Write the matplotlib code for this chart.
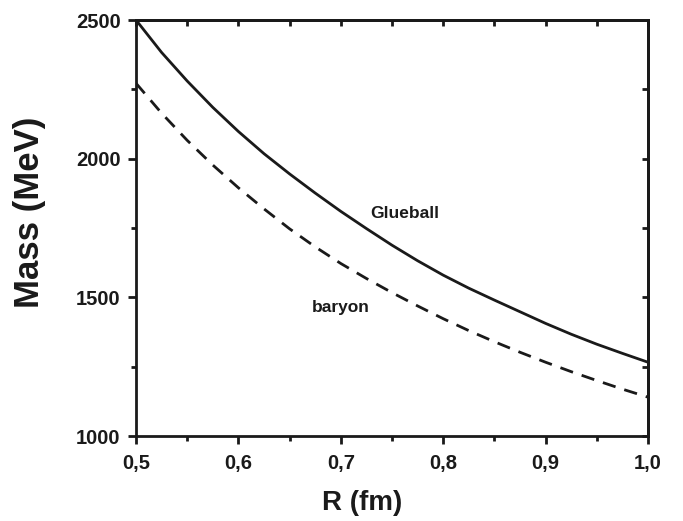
import numpy as np
import matplotlib
matplotlib.use('Agg')
import matplotlib.pyplot as plt
from matplotlib.ticker import MultipleLocator

# values (every 0.025 fm)
R = [0.500, 0.525, 0.550, 0.575, 0.600, 0.625, 0.650, 0.675, 0.700, 0.725,
     0.750, 0.775, 0.800, 0.825, 0.850, 0.875, 0.900, 0.925, 0.950, 0.975, 1.000]
glueball = [2500, 2383, 2280, 2185, 2098, 2018, 1945, 1876, 1810, 1748,
            1688, 1632, 1580, 1533, 1490, 1448, 1406, 1367, 1331, 1298, 1266]
baryon = [2272, 2164, 2066, 1977, 1895, 1819, 1747, 1682, 1622, 1568,
          1517, 1469, 1423, 1380, 1340, 1302, 1266, 1232, 1200, 1169, 1140]

plt.rcParams['font.family'] = ['Liberation Sans', 'DejaVu Sans']
plt.rcParams['font.weight'] = 'bold'

fig = plt.figure(figsize=(6.83, 5.21), dpi=100)
ax = fig.add_axes([136/683, 1 - 436/521, 512/683, 416/521])

col = '#1a1a1a'
ax.plot(R, glueball, color=col, lw=2.0, solid_capstyle='butt')
ax.plot(R, baryon, color=col, lw=2.0, dashes=(4.8, 3.3))

ax.set_xlim(0.5, 1.0)
ax.set_ylim(1000, 2500)

ax.xaxis.set_major_locator(MultipleLocator(0.1))
ax.xaxis.set_minor_locator(MultipleLocator(0.05))
ax.yaxis.set_major_locator(MultipleLocator(500))
ax.yaxis.set_minor_locator(MultipleLocator(250))
ax.set_xticklabels([f"{t:.1f}".replace('.', ',') for t in ax.get_xticks()])

for s in ax.spines.values():
    s.set_linewidth(2.0)
    s.set_color(col)

ax.tick_params(which='major', direction='out', length=6, width=2.0,
               color=col, labelsize=14.5, labelcolor=col)
ax.tick_params(which='minor', direction='out', length=3.5, width=2.0, color=col)
ax.tick_params(axis='x', which='major', pad=7)
ax.tick_params(axis='y', which='major', pad=5)

# mirrored ticks pointing inwards on top and right
top = ax.secondary_xaxis('top')
top.xaxis.set_major_locator(MultipleLocator(0.1))
top.xaxis.set_minor_locator(MultipleLocator(0.05))
top.tick_params(which='both', direction='in', length=4, width=2.0,
                color=col, labeltop=False)
top.spines['top'].set_linewidth(2.0)
right = ax.secondary_yaxis('right')
right.yaxis.set_major_locator(MultipleLocator(500))
right.yaxis.set_minor_locator(MultipleLocator(250))
right.tick_params(which='both', direction='in', length=4, width=2.0,
                  color=col, labelright=False)
right.spines['right'].set_linewidth(2.0)

ax.set_xlabel('R (fm)', fontsize=20, fontweight='bold', color=col, va='center')
ax.xaxis.set_label_coords((362 - 136) / 512, -(503 - 436) / 416)
ax.set_ylabel('Mass (MeV)', fontsize=25, fontweight='bold', color=col, va='center')
ax.yaxis.set_label_coords(-(136 - 30) / 512, (436 - 212) / 416)

ax.text(0.762, 1804, 'Glueball', fontsize=12.5, fontweight='bold',
        color=col, ha='center', va='center')
ax.text(0.70, 1465, 'baryon', fontsize=12.5, fontweight='bold',
        color=col, ha='center', va='center')

fig.savefig('out.png', dpi=100)
